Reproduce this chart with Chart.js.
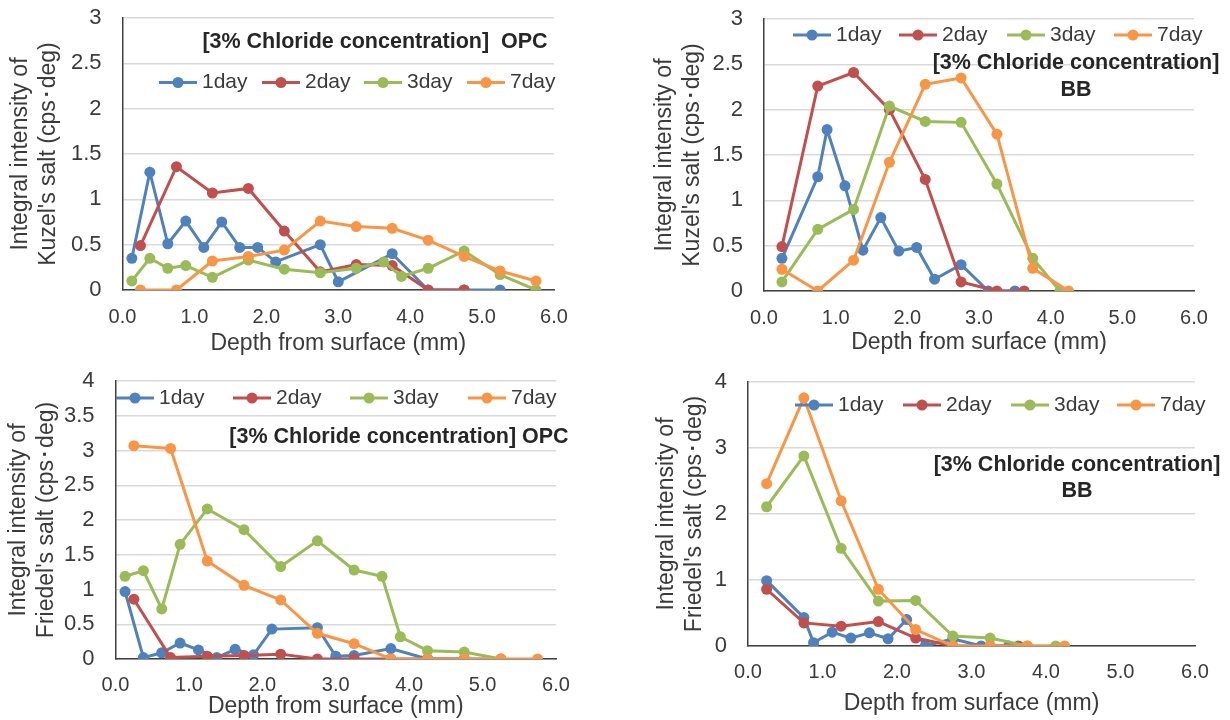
<!DOCTYPE html>
<html>
<head>
<meta charset="utf-8">
<script src="https://cdn.jsdelivr.net/npm/chart.js@4.4.0/dist/chart.umd.min.js"></script>
<style>
  body { margin: 0; background: #fff; }
  .panel { position: absolute; width: 615px; height: 360px; }
</style>
</head>
<body>
<div class="panel" style="left:0;top:0"><canvas id="kuzelOpc" width="615" height="360"></canvas></div>
<div class="panel" style="left:615px;top:0"><canvas id="kuzelBb" width="615" height="360"></canvas></div>
<div class="panel" style="left:0;top:360px"><canvas id="friedelOpc" width="615" height="360"></canvas></div>
<div class="panel" style="left:615px;top:360px"><canvas id="friedelBb" width="615" height="360"></canvas></div>
<script>
const seriesNames = ['1day', '2day', '3day', '7day'];
const seriesColors = ['#4F81BD', '#C0504D', '#9BBB59', '#F79646'];
const xTicks = [0, 1, 2, 3, 4, 5, 6];

// depth (mm) of each sample, OPC specimens
const opcDepth1 = [0.13, 0.38, 0.63, 0.88, 1.13, 1.38, 1.63, 1.88, 2.13, 2.75, 3.0, 3.75, 4.25, 4.75, 5.25];
const opcDepth2 = [0.25, 0.75, 1.25, 1.75, 2.25, 2.75, 3.25, 3.75, 4.25, 4.75];
const opcDepth3 = [0.13, 0.38, 0.63, 0.88, 1.25, 1.75, 2.25, 2.75, 3.25, 3.63, 3.88, 4.25, 4.75, 5.25, 5.75];
const opcDepth7 = [0.25, 0.75, 1.25, 1.75, 2.25, 2.75, 3.25, 3.75, 4.25, 4.75, 5.25, 5.75];
// friedel OPC 1day has an extra point at 3.25
const opcFriedelDepth1 = [0.13, 0.38, 0.63, 0.88, 1.13, 1.38, 1.63, 1.88, 2.13, 2.75, 3.0, 3.25, 3.75, 4.25, 4.75, 5.25];
const opcFriedelDepth3 = [0.13, 0.38, 0.63, 0.88, 1.25, 1.75, 2.25, 2.75, 3.25, 3.63, 3.88, 4.25, 4.75, 5.25];

// depth (mm) of each sample, BB specimens
const bbDepth1 = [0.25, 0.75, 0.88, 1.13, 1.38, 1.63, 1.88, 2.13, 2.38, 2.75, 3.13, 3.5];
const bbDepth2 = [0.25, 0.75, 1.25, 1.75, 2.25, 2.75, 3.25, 3.63];
const bbDepth3 = [0.25, 0.75, 1.25, 1.75, 2.25, 2.75, 3.25, 3.75, 4.13];
const bbDepth7 = [0.25, 0.75, 1.25, 1.75, 2.25, 2.75, 3.25, 3.75, 4.25];

// Kuzel's salt, OPC
const kuzelOpc1 = [0.35, 1.30, 0.51, 0.76, 0.47, 0.75, 0.47, 0.47, 0.31, 0.50, 0.09, 0.40, 0, 0, 0];
const kuzelOpc2 = [0.49, 1.36, 1.07, 1.12, 0.65, 0.20, 0.28, 0.27, 0, 0];
const kuzelOpc3 = [0.10, 0.35, 0.24, 0.27, 0.14, 0.33, 0.23, 0.19, 0.24, 0.31, 0.15, 0.24, 0.43, 0.17, 0];
const kuzelOpc7 = [0, 0, 0.32, 0.37, 0.44, 0.76, 0.70, 0.68, 0.55, 0.37, 0.21, 0.10];

// Kuzel's salt, BB
const kuzelBb1 = [0.36, 1.26, 1.78, 1.16, 0.45, 0.81, 0.44, 0.48, 0.13, 0.29, 0, 0];
const kuzelBb2 = [0.49, 2.26, 2.41, 2.00, 1.23, 0.10, 0, 0];
const kuzelBb3 = [0.10, 0.68, 0.90, 2.04, 1.87, 1.86, 1.18, 0.36, 0];
const kuzelBb7 = [0.24, 0, 0.34, 1.42, 2.28, 2.35, 1.73, 0.25, 0];

// Friedel's salt, OPC
const friedelOpc1 = [0.97, 0.02, 0.09, 0.23, 0.13, 0.02, 0.14, 0.06, 0.43, 0.45, 0.04, 0.05, 0.15, 0, 0, 0];
const friedelOpc2 = [0.86, 0.02, 0.04, 0.05, 0.07, 0, 0, 0, 0, 0];
const friedelOpc3 = [1.19, 1.27, 0.72, 1.65, 2.16, 1.86, 1.33, 1.70, 1.28, 1.19, 0.32, 0.12, 0.10, 0];
const friedelOpc7 = [3.07, 3.03, 1.41, 1.06, 0.85, 0.37, 0.22, 0, 0, 0, 0, 0];

// Friedel's salt, BB
const friedelBb1 = [0.99, 0.43, 0.05, 0.21, 0.12, 0.20, 0.11, 0.40, 0, 0.11, 0, 0];
const friedelBb2 = [0.86, 0.35, 0.30, 0.37, 0.12, 0, 0, 0];
const friedelBb3 = [2.11, 2.88, 1.48, 0.68, 0.69, 0.15, 0.12, 0, 0];
const friedelBb7 = [2.46, 3.76, 2.20, 0.86, 0.25, 0, 0, 0, 0];

const FONT = '"Liberation Sans", Arial, sans-serif';
const TEXT = '#3A3A3A';

const toPoints = (xs, ys) => xs.map((x, i) => ({ x: x, y: ys[i] }));

// legend + bold caption drawn inside the plot area
const insideLegend = {
  id: 'insideLegend',
  afterDraw(chart, args, opts) {
    const ctx = chart.ctx;
    ctx.save();
    ctx.textBaseline = 'middle';
    chart.data.datasets.forEach((ds, i) => {
      const x0 = opts.xs[i], y = opts.y;
      ctx.strokeStyle = ds.borderColor;
      ctx.lineWidth = 3;
      ctx.beginPath();
      ctx.moveTo(x0, y);
      ctx.lineTo(x0 + 38, y);
      ctx.stroke();
      ctx.fillStyle = ds.backgroundColor;
      ctx.beginPath();
      ctx.arc(x0 + 19, y, 5.5, 0, Math.PI * 2);
      ctx.fill();
      ctx.fillStyle = TEXT;
      ctx.font = '21px ' + FONT;
      ctx.textAlign = 'left';
      ctx.fillText(ds.label, x0 + 43, y);
    });
    ctx.font = 'bold 21.5px ' + FONT;
    ctx.fillStyle = '#262626';
    ctx.textAlign = 'center';
    opts.notes.forEach(n => ctx.fillText(n.text, n.x, n.y));
    ctx.restore();
  }
};

function makeChart(id, p) {
  const datasets = seriesNames.map((name, i) => ({
    label: name,
    data: toPoints(p.depths[i], p.values[i]),
    borderColor: seriesColors[i],
    backgroundColor: seriesColors[i],
    borderWidth: 3,
    pointRadius: 5.5,
    pointBorderWidth: 0,
    tension: 0,
    order: 3 - i
  }));

  return new Chart(document.getElementById(id), {
    type: 'line',
    data: { datasets: datasets },
    options: {
      responsive: false,
      animation: false,
      layout: { padding: { left: 0, top: p.padTop, right: p.padRight, bottom: 0 } },
      plugins: {
        legend: { display: false },
        tooltip: { enabled: false },
        insideLegend: { y: p.legendY, xs: p.legendXs, notes: p.notes }
      },
      scales: {
        x: {
          type: 'linear',
          min: 0,
          max: 6,
          afterFit: s => { s.height = p.xHeight; s.paddingLeft = 0; s.paddingRight = 0; },
          afterBuildTicks: s => { s.ticks = xTicks.map(v => ({ value: v })); },
          grid: { display: false, drawTicks: false },
          border: { display: true, color: '#404040', width: 1.5 },
          ticks: {
            padding: p.xTickPad,
            color: TEXT,
            font: { family: FONT, size: 20 },
            maxRotation: 0,
            callback: v => v.toFixed(1)
          },
          title: {
            display: true,
            text: 'Depth from surface (mm)',
            color: TEXT,
            font: { family: FONT, size: 23 },
            padding: { top: 0, bottom: p.xTitlePad }
          }
        },
        y: {
          min: 0,
          max: p.yMax,
          afterFit: s => { s.width = p.yWidth; s.paddingTop = 0; s.paddingBottom = 0; },
          grid: { color: '#D9D9D9', lineWidth: 1.5, drawTicks: false },
          border: { display: true, color: '#404040', width: 1.5 },
          ticks: {
            stepSize: p.yStep,
            padding: 21,
            color: TEXT,
            font: { family: FONT, size: 22 },
            callback: v => String(v)
          },
          title: {
            display: true,
            text: p.yTitle,
            color: TEXT,
            font: { family: FONT, size: 23, lineHeight: 1.2 },
            padding: { top: p.yTitlePad, bottom: 0 }
          }
        }
      }
    },
    plugins: [insideLegend]
  });
}

makeChart('kuzelOpc', {
  depths: [opcDepth1, opcDepth2, opcDepth3, opcDepth7],
  values: [kuzelOpc1, kuzelOpc2, kuzelOpc3, kuzelOpc7],
  yMax: 3, yStep: 0.5,
  yTitle: ['Integral intensity of', "Kuzel's salt (cps\uFF65deg)"],
  yWidth: 122.5, xHeight: 70, padTop: 18, padRight: 61,
  yTitlePad: 7, xTitlePad: 3, xTickPad: 15,
  legendY: 82.5, legendXs: [159, 262, 364, 467],
  notes: [{ text: '[3% Chloride concentration]  OPC', x: 375, y: 42 }]
});

makeChart('kuzelBb', {
  depths: [bbDepth1, bbDepth2, bbDepth3, bbDepth7],
  values: [kuzelBb1, kuzelBb2, kuzelBb3, kuzelBb7],
  yMax: 3, yStep: 0.5,
  yTitle: ['Integral intensity of', "Kuzel's salt (cps\uFF65deg)"],
  yWidth: 149, xHeight: 69, padTop: 19, padRight: 36,
  yTitlePad: 36, xTitlePad: 4, xTickPad: 15,
  legendY: 35, legendXs: [178, 284, 392, 499],
  notes: [
    { text: '[3% Chloride concentration]', x: 461, y: 63 },
    { text: 'BB', x: 461, y: 90 }
  ]
});

makeChart('friedelOpc', {
  depths: [opcFriedelDepth1, opcDepth2, opcFriedelDepth3, opcDepth7],
  values: [friedelOpc1, friedelOpc2, friedelOpc3, friedelOpc7],
  yMax: 4, yStep: 0.5,
  yTitle: ['Integral intensity of', "Friedel's salt (cps\uFF65deg)"],
  yWidth: 115.5, xHeight: 61, padTop: 21, padRight: 59,
  yTitlePad: 5, xTitlePad: 0, xTickPad: 14,
  legendY: 38, legendXs: [116, 233, 350, 468],
  notes: [{ text: '[3% Chloride concentration] OPC', x: 399, y: 77 }]
});

makeChart('friedelBb', {
  depths: [bbDepth1, bbDepth2, bbDepth3, bbDepth7],
  values: [friedelBb1, friedelBb2, friedelBb3, friedelBb7],
  yMax: 4, yStep: 1,
  yTitle: ['Integral intensity of', "Friedel's salt (cps\uFF65deg)"],
  yWidth: 133, xHeight: 74, padTop: 22, padRight: 35,
  yTitlePad: 38, xTitlePad: 3, xTickPad: 14,
  legendY: 45, legendXs: [180, 288, 396, 502],
  notes: [
    { text: '[3% Chloride concentration]', x: 462, y: 105 },
    { text: 'BB', x: 462, y: 131 }
  ]
});
</script>
</body>
</html>
